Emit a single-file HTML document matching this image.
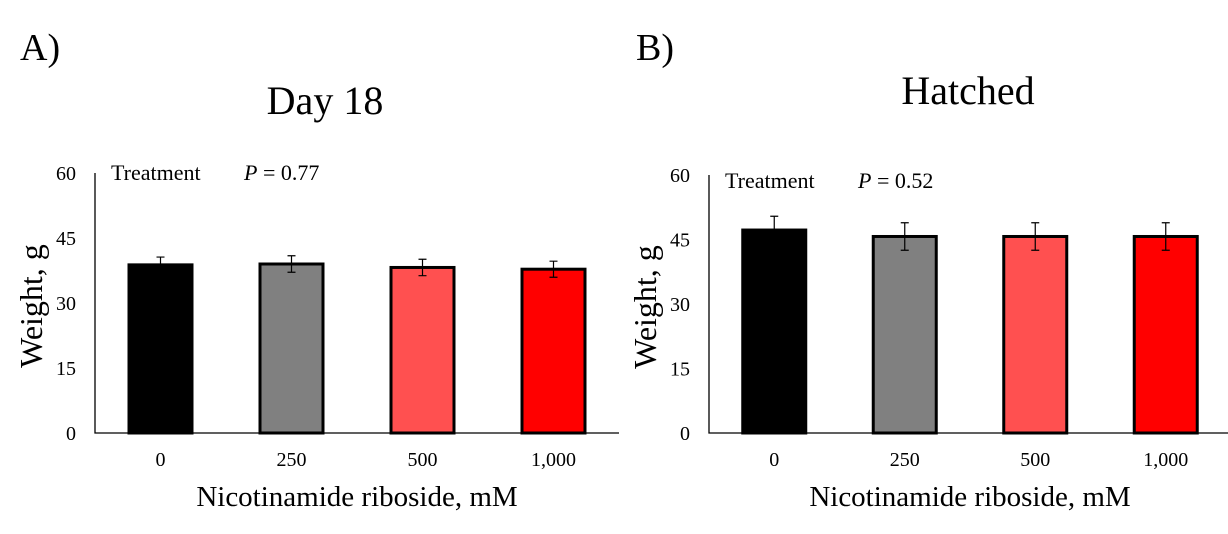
<!DOCTYPE html>
<html><head><meta charset="utf-8"><style>
body{margin:0;background:#fff;}
svg{display:block;font-family:"Liberation Serif",serif;}
</style></head><body>
<svg id="chart" width="1228" height="534"></svg>
<script>
const categories = ["0","250","500","1,000"];
const dayValues = [38.8, 39.0, 38.2, 37.8];
const dayErrors = [1.8, 1.9, 1.9, 1.85];
const hatchedValues = [47.2, 45.7, 45.7, 45.7];
const hatchedErrors = [3.2, 3.2, 3.2, 3.2];
const yTicks = [0, 15, 30, 45, 60];
const colors = ["#000000","#808080","#ff5050","#ff0000"];
const NS = "http://www.w3.org/2000/svg";
const svg = document.getElementById('chart');
function mk(tag, attrs, text){
  const e = document.createElementNS(NS, tag);
  for (const k in attrs) e.setAttribute(k, attrs[k]);
  if (text !== undefined) e.textContent = text;
  svg.appendChild(e); return e;
}
function panel(p){
  const yS = v => p.y0 - (v/60)*(p.y0-p.yTop);
  const band = p.band;
  const xC = i => p.x0 + band*(i+0.5);
  let e;
  e = mk('text',{x:p.letterX,y:60,'font-size':38},p.letter);
  
  
  e = mk('text',{x:p.titleX,y:p.titleY,'font-size':40,'text-anchor':'middle'},p.title);
  
  
  yTicks.forEach(t=>{
    const l = mk('text',{x:p.x0-19,y:yS(t)+7,'font-size':20,'text-anchor':'end'},t);
    
    
  });
  p.values.forEach((v,i)=>{
    const w = 63;
    const r = mk('rect',{x:xC(i)-w/2,y:yS(v),width:w,height:yS(0)-yS(v),fill:colors[i],stroke:'#000','stroke-width':3});
    
    
    const hi = yS(v+p.errors[i]), lo = yS(v-p.errors[i]);
    const eb = mk('path',{d:`M${xC(i)} ${hi}V${lo}M${xC(i)-4} ${hi}H${xC(i)+4}M${xC(i)-4} ${lo}H${xC(i)+4}`,stroke:'#000','stroke-width':1.2,fill:'none'});
    
    
    const xl = mk('text',{x:xC(i),y:466,'font-size':20,'text-anchor':'middle'},categories[i]);
    
    
  });
  e = mk('path',{d:`M${p.x0} ${p.yTop}V${p.y0}H${p.x0+band*4}`,stroke:'#000','stroke-width':1.3,fill:'none'});
  
  
  e = mk('text',{x:p.x0+16,y:p.yTop+p.annY,'font-size':22},'Treatment');
  
  
  e = mk('text',{x:p.x0+149,y:p.yTop+p.annY,'font-size':22});
  e.innerHTML = '<tspan font-style="italic">P</tspan> = '+p.pval;
  
  
  e = mk('text',{x:p.x0+band*2,y:506,'font-size':29,'text-anchor':'middle'},'Nicotinamide riboside, mM');
  
  
  e = mk('text',{x:0,y:0,'font-size':32,'text-anchor':'middle',transform:`translate(${p.x0-53},${(p.y0+p.yTop)/2+3}) rotate(-90)`},'Weight, g');
  
  
}
panel({id:'a',letter:'A)',letterX:20,title:'Day 18',titleX:325,titleY:114,x0:95,y0:433,yTop:173,band:131,annY:7,values:dayValues,errors:dayErrors,pval:'0.77'});
panel({id:'b',letter:'B)',letterX:636,title:'Hatched',titleX:968,titleY:104,x0:709,y0:433,yTop:175,band:130.5,annY:13,values:hatchedValues,errors:hatchedErrors,pval:'0.52'});
</script>
</body></html>
